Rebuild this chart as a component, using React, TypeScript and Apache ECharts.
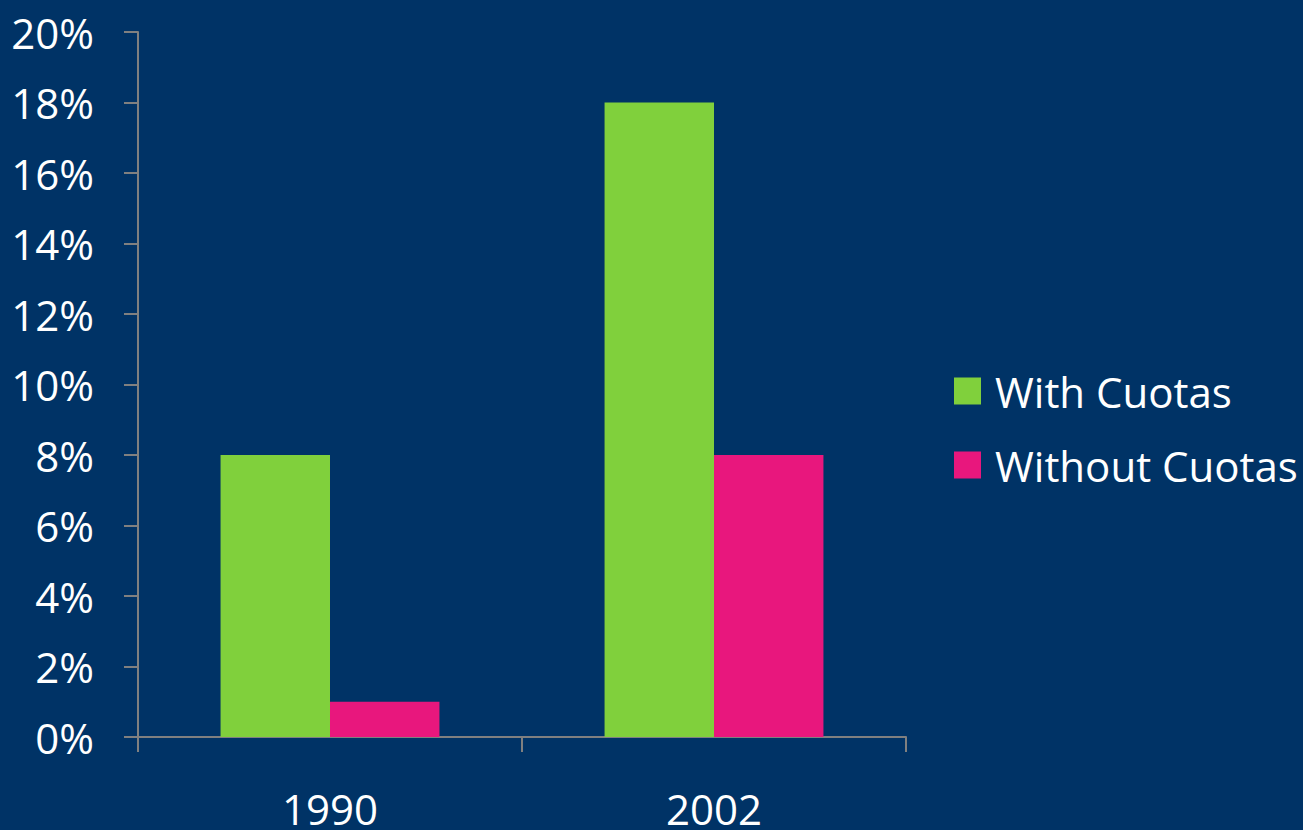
import React, { useEffect, useRef } from "react";
import * as echarts from "echarts";

const categories = ["1990", "2002"];
const withCuotas = [0.08, 0.18];
const withoutCuotas = [0.01, 0.08];
const seriesNames = ["With Cuotas", "Without Cuotas"];

export default function App() {
  const ref = useRef<HTMLDivElement>(null);
  useEffect(() => {
    if (!ref.current) return;
    const chart = echarts.init(ref.current, undefined, { renderer: "svg" });
    const font = "'Open Sans', sans-serif";
    chart.setOption({
      animation: false,
      backgroundColor: "#003366",
      grid: { left: 138, right: 397, top: 32, bottom: 93 },
      legend: {
        orient: "vertical",
        left: 954,
        top: 370,
        padding: 0,
        itemWidth: 27,
        itemHeight: 27,
        itemGap: 32,
        icon: "rect",
        data: seriesNames,
        textStyle: {
          color: "#ffffff",
          fontSize: 42,
          lineHeight: 42,
          fontFamily: font,
          padding: [0, 0, 0, 9],
        },
      },
      xAxis: {
        type: "category",
        data: categories,
        axisLine: { lineStyle: { color: "#808080", width: 2 } },
        axisTick: { show: true, interval: 0, length: 15, lineStyle: { color: "#808080", width: 2 } },
        axisLabel: { color: "#ffffff", fontSize: 42, fontFamily: font, margin: 50 },
      },
      yAxis: {
        type: "value",
        min: 0,
        max: 0.2,
        interval: 0.02,
        splitLine: { show: false },
        axisLine: { show: true, lineStyle: { color: "#808080", width: 2 } },
        axisTick: { show: true, length: 14, lineStyle: { color: "#808080", width: 2 } },
        axisLabel: {
          color: "#ffffff",
          fontSize: 42,
          fontFamily: font,
          margin: 44,
          formatter: (v: number) => Math.round(v * 100) + "%",
        },
      },
      series: [
        {
          name: seriesNames[0],
          type: "bar",
          data: withCuotas,
          barGap: "0%",
          barCategoryGap: "43%",
          itemStyle: { color: "#80D03C" },
        },
        {
          name: seriesNames[1],
          type: "bar",
          data: withoutCuotas,
          barGap: "0%",
          barCategoryGap: "43%",
          itemStyle: { color: "#E8177D" },
        },
      ],
    });
    return () => chart.dispose();
  }, []);
  return (
    <div
      ref={ref}
      style={{ position: "fixed", left: 0, top: 0, width: 1303, height: 830, background: "#003366" }}
    />
  );
}
